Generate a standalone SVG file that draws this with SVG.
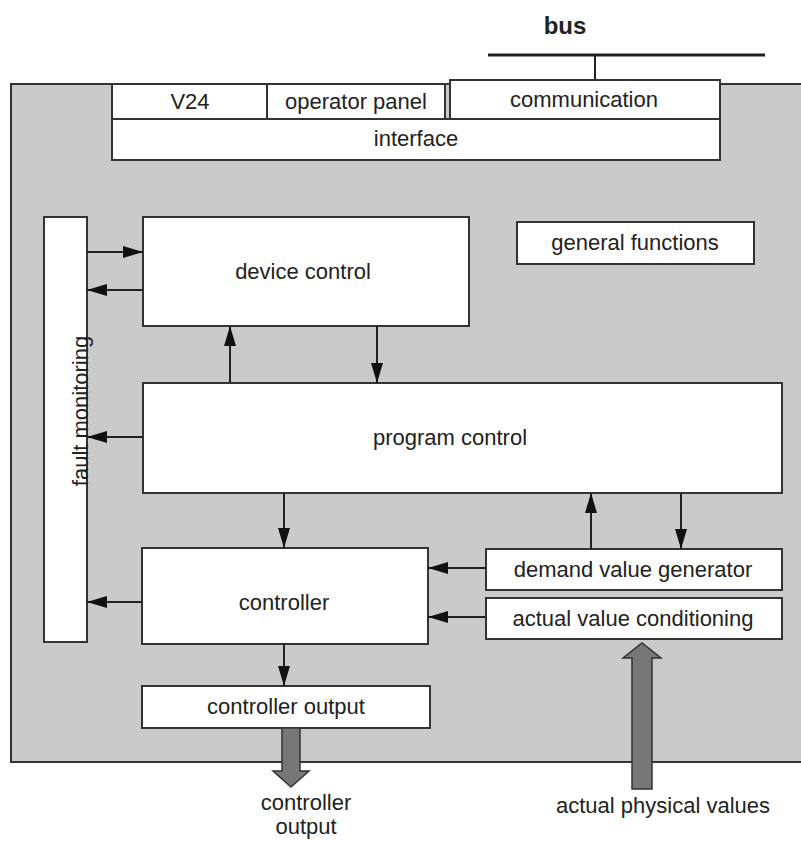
<svg xmlns="http://www.w3.org/2000/svg" width="801" height="841" viewBox="0 0 801 841">
<style>
.box{fill:#fff;stroke:#333;stroke-width:2}
.t{font-family:"Liberation Sans",Arial,sans-serif;font-size:22px;fill:#222;text-anchor:middle}
.c{stroke:#222;stroke-width:2;fill:none;marker-end:url(#ah)}
.big{fill:#777;stroke:#333;stroke-width:1.5}
</style>
<defs>
<marker id="ah" markerUnits="userSpaceOnUse" markerWidth="20" markerHeight="12" refX="20" refY="6" orient="auto">
<path d="M0,0 L20,6 L0,12 z" fill="#111"/>
</marker>
</defs>
<rect x="11" y="84" width="800" height="678" fill="#cacaca" stroke="#333" stroke-width="2"/>
<g id="bus">
<line x1="488" y1="55" x2="765" y2="55" stroke="#222" stroke-width="3"/>
<line x1="595" y1="55" x2="595" y2="80" stroke="#222" stroke-width="2"/>
<text x="565" y="34" class="t" style="font-weight:bold;font-size:24px">bus</text>
</g>
<g id="v24"><rect class="box" x="112" y="84" width="155" height="35"/><text class="t" x="190" y="109">V24</text></g>
<g id="operator-panel"><rect class="box" x="267" y="84" width="178" height="35"/><text class="t" x="356" y="109">operator panel</text></g>
<g id="communication"><rect class="box" x="450" y="80" width="270" height="39"/><text class="t" x="584" y="107">communication</text></g>
<g id="interface"><rect class="box" x="112" y="119" width="608" height="41"/><text class="t" x="416" y="146">interface</text></g>
<g id="general-functions"><rect class="box" x="517" y="222" width="237" height="42"/><text class="t" x="635" y="250">general functions</text></g>
<g id="fault-monitoring"><rect class="box" x="44" y="217" width="43" height="425"/><text class="t" transform="translate(88,411) rotate(-90)">fault monitoring</text></g>
<g id="device-control"><rect class="box" x="143" y="217" width="326" height="109"/><text class="t" x="303" y="279">device control</text></g>
<g id="program-control"><rect class="box" x="143" y="383" width="639" height="110"/><text class="t" x="450" y="445">program control</text></g>
<g id="controller"><rect class="box" x="142" y="548" width="286" height="96"/><text class="t" x="284" y="610">controller</text></g>
<g id="controller-output"><rect class="box" x="142" y="686" width="288" height="42"/><text class="t" x="286" y="714">controller output</text></g>
<g id="demand-value-generator"><rect class="box" x="486" y="549" width="296" height="41"/><text class="t" x="633" y="577">demand value generator</text></g>
<g id="actual-value-conditioning"><rect class="box" x="486" y="598" width="296" height="41"/><text class="t" x="633" y="626">actual value conditioning</text></g>
<g id="connectors">
<line class="c" x1="87" y1="252" x2="143" y2="252"/>
<line class="c" x1="143" y1="290" x2="87" y2="290"/>
<line class="c" x1="230" y1="383" x2="230" y2="326"/>
<line class="c" x1="377" y1="326" x2="377" y2="383"/>
<line class="c" x1="143" y1="437" x2="87" y2="437"/>
<line class="c" x1="284" y1="493" x2="284" y2="548"/>
<line class="c" x1="142" y1="602" x2="87" y2="602"/>
<line class="c" x1="486" y1="568" x2="428" y2="568"/>
<line class="c" x1="486" y1="617" x2="428" y2="617"/>
<line class="c" x1="284" y1="644" x2="284" y2="686"/>
<line class="c" x1="591" y1="549" x2="591" y2="493"/>
<line class="c" x1="681" y1="493" x2="681" y2="549"/>
<polygon class="big" points="282,728 300,728 300,771 309,771 291,787 273,771 282,771"/>
<polygon class="big" points="632,789 652,789 652,658 661,658 642,643 623,658 632,658"/>
</g>
<g id="external-labels">
<text class="t" x="306" y="810">controller</text>
<text class="t" x="306" y="834">output</text>
<text class="t" x="663" y="813">actual physical values</text>
</g>
</svg>
